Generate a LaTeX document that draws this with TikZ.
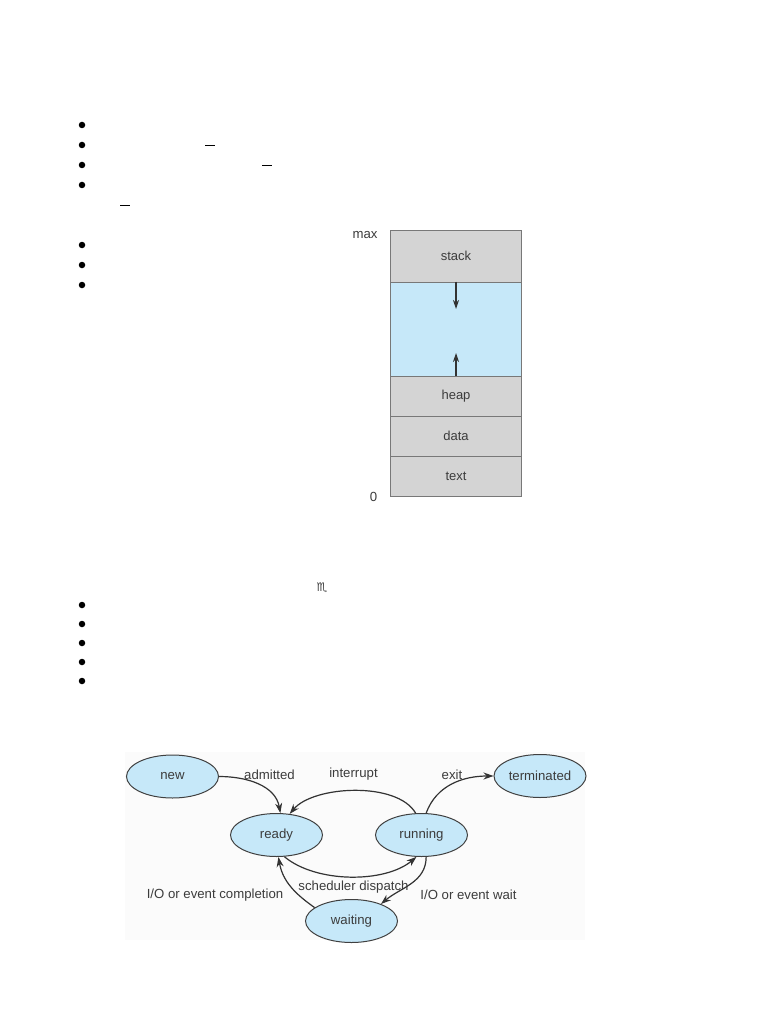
\documentclass[tikz,border=0pt]{standalone}
\usepackage{fontspec}
\setmainfont{Liberation Sans}
\newfontfamily\symfont{DejaVu Sans}
\usetikzlibrary{shapes.geometric,arrows.meta}
\definecolor{boxgray}{RGB}{212,212,212}
\definecolor{boxblue}{RGB}{198,232,249}
\definecolor{edgegray}{RGB}{120,120,120}
\definecolor{txtgray}{RGB}{60,60,60}
\definecolor{faintbg}{RGB}{251,251,251}
\tikzset{
  bul/.style={circle,fill=black,inner sep=0pt,minimum size=6.5pt},
  dashmark/.style={draw=black,line width=1.2pt},
  seg/.style={draw=edgegray,line width=0.8pt,minimum width=131pt,inner sep=0pt,text=txtgray,font=\fontsize{13}{15}\selectfont},
  state/.style={ellipse,draw=black!75,line width=1pt,fill=boxblue,minimum width=92pt,minimum height=43pt,inner sep=0pt,text=txtgray,font=\fontsize{13.2}{15}\selectfont},
  lbl/.style={text=txtgray,font=\fontsize{13.2}{15}\selectfont,inner sep=1pt},
  tr/.style={-{Stealth[length=10pt,width=7pt]},line width=1.2pt,draw=black!80},
  growarrow/.style={-{Stealth[length=9pt,width=6pt]},line width=1.2pt,draw=black!80}
}
\begin{document}
\begin{tikzpicture}[x=1pt,y=-1pt]
\useasboundingbox (0,0) rectangle (768,1024);
\fill[white] (0,0) rectangle (768,1024);
% bullets, first list
\foreach \yy/\nm in {125/b1,145/b2,165/b3,185/b4,245/b5,265/b6,285/b7}
  \node[bul] (\nm) at (82,\yy) {};
\draw[dashmark] (205,145.5) -- (215,145.5);
\draw[dashmark] (262,165.5) -- (272,165.5);
\draw[dashmark] (120,205.5) -- (130,205.5);
% memory layout
\node[seg,fill=boxgray,minimum height=52pt] (stack) at (456,256) {stack};
\node[seg,fill=boxblue,minimum height=94pt] (free) at (456,329) {};
\node[seg,fill=boxgray,minimum height=40pt] (heap) at (456,396) {heap};
\node[seg,fill=boxgray,minimum height=40pt] (data) at (456,436) {data};
\node[seg,fill=boxgray,minimum height=40pt] (textseg) at (456,476) {text};
\node[lbl] (max) at (365,235) {max};
\node[lbl] (zero) at (373.5,497) {0};
\coordinate (dn) at (456,309);
\coordinate (up) at (456,353);
\draw[growarrow] (free.north -| dn) -- (dn);
\draw[growarrow] (free.south -| up) -- (up);
% second list
\node[text=txtgray,font=\symfont\fontsize{12}{13}\selectfont] (scorp) at (322,588) {♏};
\foreach \yy/\nm in {605/c1,624/c2,643/c3,662/c4,681/c5}
  \node[bul] (\nm) at (82,\yy) {};
% state diagram
\fill[faintbg] (125,752) rectangle (585,940);
\node[state] (new) at (172.5,776.5) {new};
\node[state] (term) at (540,776) {terminated};
\node[state] (ready) at (276.5,835) {ready};
\node[state] (run) at (421.5,835) {running};
\node[state] (wait) at (351.5,921) {waiting};
\draw[tr] (new.east) to[out=0,in=100] (ready.80);
\draw[tr] (run.105) to[out=120,in=50,looseness=0.75] (ready.58);
\draw[tr] (ready.-70) to[out=-40,in=-140,looseness=0.8] (run.-103);
\draw[tr] (run.78) to[out=70,in=180] (term.west);
\draw[tr] (run.-78) to[out=-90,in=40] (wait.30);
\draw[tr] (wait.160) to[out=145,in=-80] (ready.-85);
\node[lbl] (ladm) at (269.5,774.5) {admitted};
\node[lbl] (lint) at (353.5,774.5) {interrupt};
\node[lbl] (lexit) at (452,774.5) {exit};
\node[lbl] (lsch) at (353.5,887) {scheduler dispatch};
\node[lbl] (lcomp) at (215,895) {I/O or event completion};
\node[lbl] (lwait) at (468.5,895) {I/O or event wait};
\end{tikzpicture}
\end{document}
